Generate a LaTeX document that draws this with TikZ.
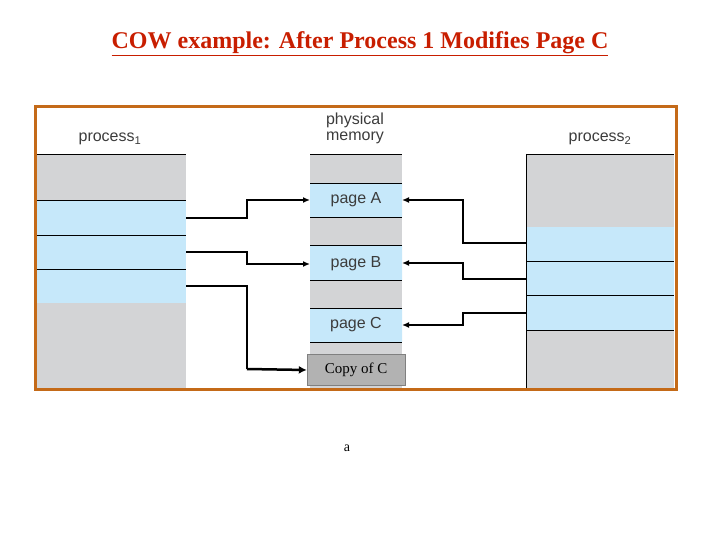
\documentclass[tikz,border=0pt]{standalone}
\usepackage{fontspec}
\setmainfont{Liberation Serif}
\newfontfamily\lsans{Liberation Sans}
\usetikzlibrary{arrows.meta}
\definecolor{gfill}{RGB}{211,212,214}
\definecolor{bfill}{RGB}{198,232,250}
\definecolor{frame}{RGB}{196,106,24}
\definecolor{ttl}{RGB}{200,30,0}
\definecolor{txt}{RGB}{60,60,60}
\begin{document}
\begin{tikzpicture}[x=1pt,y=-1pt,
  seg/.style={draw=none},
  sep/.style={draw=black,line width=0.7pt},
  lab/.style={font=\lsans\fontsize{16}{17}\selectfont,text=txt,inner sep=0pt},
  arr/.style={line width=1.3pt,-{Latex[length=7pt,width=6pt]}}]
\useasboundingbox (0,0) rectangle (720,540);
\node[font=\bfseries\fontsize{24}{26}\selectfont,text=ttl] (title) at (360,44) {\underline{COW example: After Process 1 Modifies Page C}};
% process1
\fill[gfill] (37,154) rectangle (186,388);
\fill[bfill] (37,200) rectangle (186,303);
\draw[sep] (37,154) -- (186,154) (37,200) -- (186,200) (37,235) -- (186,235) (37,269) -- (186,269);
% memory
\fill[gfill] (310,154) rectangle (402,388);
\fill[bfill] (310,183) rectangle (402,217) (310,245) rectangle (402,280) (310,308) rectangle (402,342);
\draw[sep] (310,154) -- (402,154);
\foreach \y in {183,217,245,280,308,342} \draw[sep] (310,\y) -- (402,\y);
\node[lab] (pa) at (356,200) {page A};
\node[lab] (pb) at (356,264) {page B};
\node[lab] (pc) at (356,325) {page C};
\node[draw=gray,fill=gray!60,minimum width=98pt,minimum height=31pt,inner sep=0pt,font=\fontsize{15}{16}\selectfont] (copy) at (356,370) {Copy of C};
% process2
\fill[gfill] (526,154) rectangle (674,388);
\fill[bfill] (526,227) rectangle (674,330);
\draw[sep] (526,154) -- (674,154) (526,154) -- (526,388);
\foreach \y in {261,295,330} \draw[sep] (526,\y) -- (674,\y);
% labels
\node[lab] (p1) at (110,139) {process\textsubscript{1}};
\node[lab,align=center] (pm) at (355,128) {physical\\[-1pt]memory};
\node[lab] (p2) at (600,139) {process\textsubscript{2}};
% coordinates
\coordinate (a1) at (186,218); \coordinate (a2) at (186,252); \coordinate (a3) at (186,286);
\coordinate (b1) at (526,243); \coordinate (b2) at (526,279); \coordinate (b3) at (526,313);
\draw[arr] (a1) -- (247,218) -- (247,200) -- (310,200);
\draw[arr] (a2) -- (247,252) -- (247,264) -- (310,264);
\draw[line width=1.3pt] (a3) -- (247,286) -- (247,369);
\draw[line width=2.5pt,-{Latex[length=8pt,width=8pt]}] (247,369) -- (copy.west);
\draw[arr] (b1) -- (463,243) -- (463,200) -- (402,200);
\draw[arr] (b2) -- (463,279) -- (463,263) -- (402,263);
\draw[arr] (b3) -- (463,313) -- (463,325) -- (402,325);
% frame
\draw[frame,line width=3pt] (35,107) rectangle (676,389);
\node[font=\fontsize{14}{15}\selectfont] (a) at (347,448) {a};
\end{tikzpicture}
\end{document}
